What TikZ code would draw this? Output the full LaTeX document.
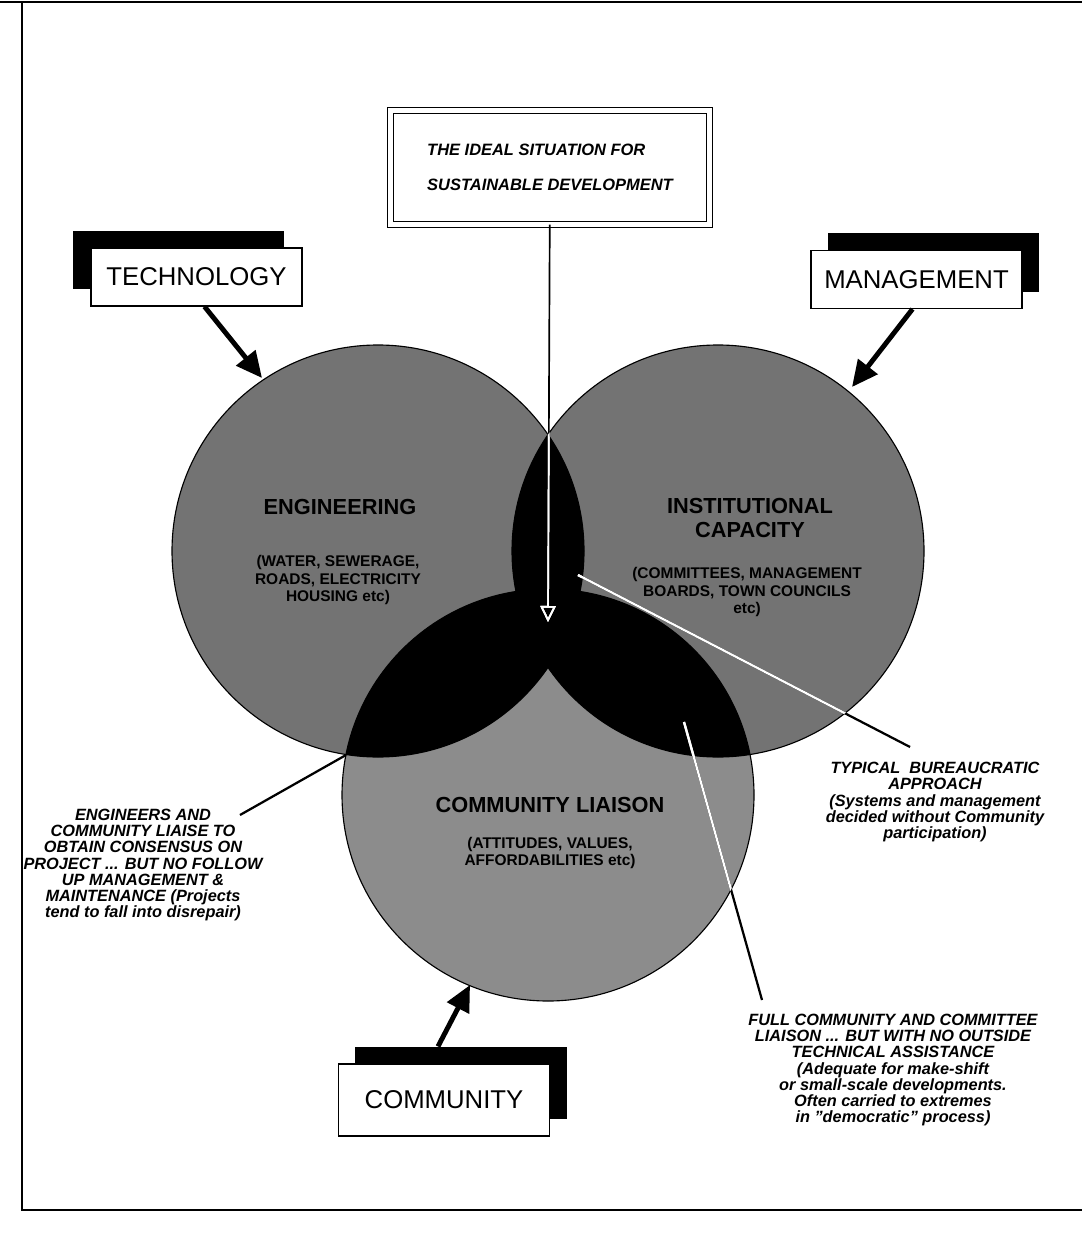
\documentclass[tikz,border=0pt]{standalone}
\usepackage{fontspec}
\setmainfont{Liberation Sans}
\usetikzlibrary{arrows.meta,shadows}

\tikzset{
	frame/.style = {line width = 0.8pt},
	disc/.style = {fill = black!55},
	tag/.style = {draw, thick, fill = white, minimum width = 5.275cm, minimum height = 1.45cm,
		font = \fontsize{18.3}{20}\selectfont,
		general shadow = {fill = black, shadow xshift = #1, shadow yshift = 0.425cm}},
	ideal/.style = {draw, line width = 0.6pt, double, double distance = 0.13cm, minimum width = 7.96cm, minimum height = 2.83cm,
		align = left, font = \fontsize{11.7}{24.9}\selectfont\bfseries\itshape},
	title/.style = {align = center, font = \fontsize{15.5}{17}\selectfont\bfseries},
	sub/.style = {align = center, font = \fontsize{11}{12.4}\selectfont\bfseries},
	note/.style = {align = center, font = \fontsize{11.6}{11.4}\selectfont\bfseries\itshape},
	bigarrow/.style = {line width = 3.5pt, -{Triangle[length = 0.65cm, width = 0.6cm]}},
	pointer/.style = {line width = 1.6pt}
}

\begin{document}
\begin{tikzpicture} [x = 0.025cm, y = -0.025cm]
	\useasboundingbox (0,0) rectangle (1082,1233);
	\draw [frame] (0,2) -- (1082,2);
	\draw [frame] (22,2) -- (22,1210) -- (1082,1210);
	% the three circles
	\coordinate (eng) at (378,551);
	\coordinate (ins) at (718,551);
	\coordinate (com) at (548,795);
	\fill [disc] (eng) circle (206);
	\fill [disc] (ins) circle (206);
	\fill [disc, fill = black!45] (com) circle (206);
	\scope
	\clip (eng) circle (206);
	\fill (ins) circle (206);
	\fill (com) circle (206);
	\endscope
	\scope
	\clip (ins) circle (206);
	\fill (com) circle (206);
	\endscope
	\foreach \c in {eng, ins, com}
		\draw [thick] (\c) circle (206);
	% texts in the circles
	\node [title] (engtitle) at (340,507) {ENGINEERING};
	\node [sub] (engsub) at (338,580) {(WATER, SEWERAGE,\\ROADS, ELECTRICITY\\HOUSING etc)};
	\node [title] (institle) at (750,518) {INSTITUTIONAL\\CAPACITY};
	\node [sub] (inssub) at (747,592) {(COMMITTEES, MANAGEMENT\\BOARDS, TOWN COUNCILS\\etc)};
	\node [title] (comtitle) at (550,805) {COMMUNITY LIAISON};
	\node [sub] (comsub) at (550,853) {(ATTITUDES, VALUES,\\AFFORDABILITIES etc)};
	% boxes with their shadows
	\node [tag = -0.45cm] (tech) at (196.5,277) {TECHNOLOGY};
	\node [tag = 0.425cm] (mgmt) at (916.5,279.5) {MANAGEMENT};
	\node [tag = 0.425cm, minimum height = 1.8cm] (comm) at (444,1100) {COMMUNITY};
	\node [ideal] (top) at (550,167.5) {THE IDEAL SITUATION FOR\\SUSTAINABLE DEVELOPMENT};
	% big arrows
	\coordinate (engtip) at (262,378);
	\coordinate (instip) at (852,387);
	\coordinate (comtip) at (470,985);
	\draw [bigarrow] ([xshift = 0.2cm]tech.south) -- (engtip);
	\draw [bigarrow] ([xshift = -0.1cm]mgmt.south) -- (instip);
	\draw [bigarrow] ([shift = {(-6,-17)}]comm.north) -- (comtip);
	% notes and their pointers
	\node [note] (leftnote) at (143,865) {ENGINEERS AND\\COMMUNITY LIAISE TO\\OBTAIN CONSENSUS ON\\PROJECT ... BUT NO FOLLOW\\UP MANAGEMENT \&\\MAINTENANCE (Projects\\tend to fall into disrepair)};
	\node [note] (bureaunote) at (935,802) {TYPICAL\ \ BUREAUCRATIC\\APPROACH\\(Systems and management\\decided without Community\\participation)};
	\node [note] (fullnote) at (893,1070) {FULL COMMUNITY AND COMMITTEE\\LIAISON ... BUT WITH NO OUTSIDE\\TECHNICAL ASSISTANCE\\(Adequate for make-shift\\or small-scale developments.\\Often carried to extremes\\in "democratic" process)};
	\coordinate (mid) at (548,622);
	\coordinate (leftend) at (346,755);
	\coordinate (lefttail) at (240,815);
	\coordinate (bureauend) at (578,575);
	\coordinate (bureautail) at (910,747);
	\coordinate (fullend) at (684,722);
	\coordinate (fulltail) at (762,1000);
	\draw [pointer] (lefttail) -- (leftend);
	\draw [pointer] (bureautail) -- (bureauend);
	\draw [pointer] (fulltail) -- (fullend);
	\draw [line width = 1.2pt] (top) -- (mid);
	% lines show white inside the circles
	\foreach \c in {eng, ins, com} {
		\scope
		\clip (\c) circle (206);
		\draw [pointer, white] (bureautail) -- (bureauend);
		\draw [pointer, white] (fulltail) -- (fullend);
		\draw [line width = 1.2pt, white, -{Triangle[open, length = 0.4cm, width = 0.38cm]}] (top) -- (mid);
		\endscope
	}
\end{tikzpicture}
\end{document}
